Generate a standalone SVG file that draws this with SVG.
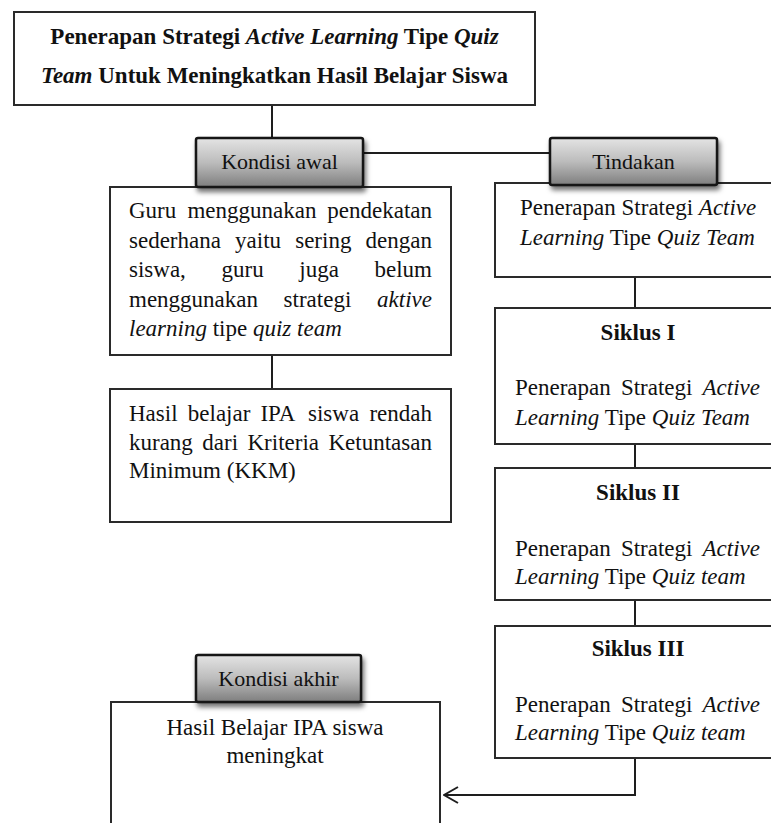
<svg xmlns="http://www.w3.org/2000/svg" width="771" height="823" viewBox="0 0 771 823">
<defs>
<linearGradient id="tabGrad" x1="0" y1="0" x2="0" y2="1">
<stop offset="0" stop-color="#e4e4e4"/>
<stop offset="0.5" stop-color="#bcbcbc"/>
<stop offset="1" stop-color="#7e7e7e"/>
</linearGradient>
<filter id="shadow" x="-10%" y="-20%" width="130%" height="170%">
<feDropShadow dx="2" dy="4" stdDeviation="2.5" flood-color="#000" flood-opacity="0.55"/>
</filter>
<marker id="arr" viewBox="0 0 16 18" refX="15" refY="9" markerWidth="16" markerHeight="18" markerUnits="userSpaceOnUse" orient="auto">
<path d="M1,1 L15,9 L1,17" fill="none" stroke="#1e1e1e" stroke-width="2"/>
</marker>
</defs>
<style>
.box{fill:#fff;stroke:#2a2a2a;stroke-width:2}
.tab{fill:url(#tabGrad);stroke:#151515;stroke-width:2.5;filter:url(#shadow)}
.ln{fill:none;stroke:#1e1e1e;stroke-width:2}
text{font-family:"Liberation Serif","Times New Roman",serif;font-size:23px;fill:#111}
.b{font-weight:bold}
.i{font-style:italic}
.c{text-anchor:middle}
.tt{font-size:22px}
</style>
<rect width="771" height="823" fill="#fff"/>

<g id="connectors">
<path class="ln" d="M272,105 V138"/>
<path class="ln" d="M363,153 H550"/>
<path class="ln" d="M272,355 V389"/>
<path class="ln" d="M635,277 V308"/>
<path class="ln" d="M635,444 V468"/>
<path class="ln" d="M635,600 V626"/>
<path class="ln" d="M635,758 V795 H444" marker-end="url(#arr)"/>
</g>

<g id="judul">
<rect class="box" x="14" y="12" width="521" height="93"/>
<text class="b c" x="274.5" y="44">Penerapan Strategi <tspan class="i">Active Learning</tspan> Tipe <tspan class="i">Quiz</tspan></text>
<text class="b c" x="274.5" y="83"><tspan class="i">Team</tspan> Untuk Meningkatkan Hasil Belajar Siswa</text>
</g>

<g id="kondisi-awal-isi">
<rect class="box" x="110" y="187" width="341" height="168"/>
<text y="218"><tspan x="129">Guru</tspan><tspan x="187.4">menggunakan</tspan><tspan x="327.3">pendekatan</tspan></text>
<text y="247.5"><tspan x="129">sederhana</tspan><tspan x="235.1">yaitu</tspan><tspan x="295.2">sering</tspan><tspan x="365.6">dengan</tspan></text>
<text y="277"><tspan x="129">siswa,</tspan><tspan x="221.5">guru</tspan><tspan x="299.3">juga</tspan><tspan x="374.5">belum</tspan></text>
<text y="306.5"><tspan x="129">menggunakan</tspan><tspan x="283.6">strategi</tspan><tspan x="377.1" class="i">aktive</tspan></text>
<text x="129" y="336"><tspan class="i">learning</tspan> tipe <tspan class="i">quiz team</tspan></text>
</g>

<g id="kondisi-awal">
<rect class="tab" x="196" y="138" width="167" height="49" rx="2"/>
<text class="c tt" x="279.5" y="169">Kondisi awal</text>
</g>

<g id="hasil-awal">
<rect class="box" x="110" y="389" width="341" height="133"/>
<text y="421"><tspan x="129">Hasil</tspan><tspan x="187.8">belajar</tspan><tspan x="260.4">IPA</tspan><tspan x="308">siswa</tspan><tspan x="369.4">rendah</tspan></text>
<text y="449.5"><tspan x="129">kurang</tspan><tspan x="202.3">dari</tspan><tspan x="247.5">Kriteria</tspan><tspan x="328.5">Ketuntasan</tspan></text>
<text x="129" y="478">Minimum (KKM)</text>
</g>

<g id="tindakan-isi">
<rect class="box" x="495" y="183" width="290" height="94"/>
<text x="520" y="215">Penerapan Strategi <tspan class="i">Active</tspan></text>
<text x="520" y="245"><tspan class="i">Learning</tspan> Tipe <tspan class="i">Quiz Team</tspan></text>
</g>

<g id="tindakan">
<rect class="tab" x="550" y="138" width="167" height="47" rx="2"/>
<text class="c tt" x="633.5" y="169">Tindakan</text>
</g>

<g id="siklus-1">
<rect class="box" x="495" y="308" width="290" height="136"/>
<text class="b c" x="638" y="340">Siklus I</text>
<text y="395"><tspan x="515">Penerapan</tspan><tspan x="620.9">Strategi</tspan><tspan x="702.5" class="i">Active</tspan></text>
<text x="515" y="425"><tspan class="i">Learning</tspan> Tipe <tspan class="i">Quiz Team</tspan></text>
</g>

<g id="siklus-2">
<rect class="box" x="495" y="468" width="290" height="132"/>
<text class="b c" x="638" y="500">Siklus II</text>
<text y="556"><tspan x="515">Penerapan</tspan><tspan x="620.9">Strategi</tspan><tspan x="702.5" class="i">Active</tspan></text>
<text x="515" y="584"><tspan class="i">Learning</tspan> Tipe <tspan class="i">Quiz team</tspan></text>
</g>

<g id="siklus-3">
<rect class="box" x="495" y="626" width="290" height="132"/>
<text class="b c" x="638" y="656">Siklus III</text>
<text y="712"><tspan x="515">Penerapan</tspan><tspan x="620.9">Strategi</tspan><tspan x="702.5" class="i">Active</tspan></text>
<text x="515" y="740"><tspan class="i">Learning</tspan> Tipe <tspan class="i">Quiz team</tspan></text>
</g>

<g id="kondisi-akhir-isi">
<rect class="box" x="111" y="702" width="329" height="140"/>
<text class="c" x="275" y="735">Hasil Belajar IPA siswa</text>
<text class="c" x="275" y="763">meningkat</text>
</g>

<g id="kondisi-akhir">
<rect class="tab" x="196" y="655" width="165" height="47" rx="2"/>
<text class="c tt" x="278.5" y="686">Kondisi akhir</text>
</g>
</svg>
